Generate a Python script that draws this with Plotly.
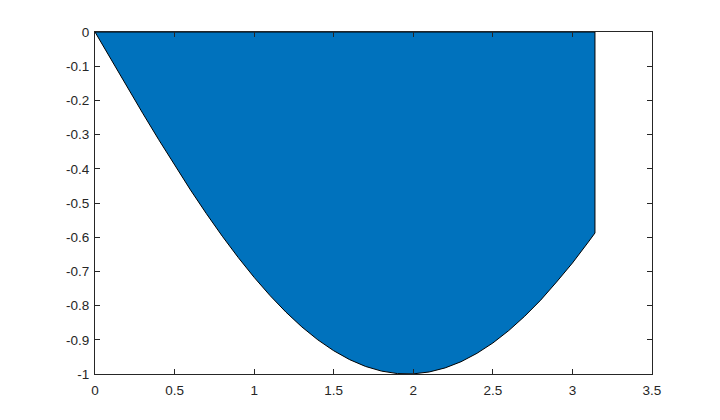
import plotly.graph_objects as go

# values
x_vals = [0, 0.1, 0.2, 0.3, 0.4, 0.5, 0.6, 0.7, 0.8, 0.9, 1.0, 1.1, 1.2, 1.3, 1.4, 1.5,
          1.6, 1.7, 1.8, 1.9, 2.0, 2.1, 2.2, 2.3, 2.4, 2.5, 2.6, 2.7, 2.8, 2.9, 3.0, 3.1, 3.1416]
y_vals = [0, -0.0799, -0.1593, -0.2377, -0.3146, -0.3894, -0.4618, -0.5312, -0.5972, -0.6594,
          -0.7174, -0.7707, -0.8192, -0.8624, -0.9001, -0.9320, -0.9580, -0.9779, -0.9915,
          -0.9988, -0.9996, -0.9941, -0.9822, -0.9641, -0.9396, -0.9093, -0.8730, -0.8311,
          -0.7843, -0.7311, -0.6755, -0.6141, -0.5878]
base_y = 0

x_ticks = [0, 0.5, 1, 1.5, 2, 2.5, 3, 3.5]
x_tick_text = ["0", "0.5", "1", "1.5", "2", "2.5", "3", "3.5"]
y_ticks = [0, -0.1, -0.2, -0.3, -0.4, -0.5, -0.6, -0.7, -0.8, -0.9, -1]
y_tick_text = ["0", "-0.1", "-0.2", "-0.3", "-0.4", "-0.5", "-0.6", "-0.7", "-0.8", "-0.9", "-1"]

poly_x = x_vals + [x_vals[-1], x_vals[0]]
poly_y = y_vals + [base_y, base_y]

fig = go.Figure()
fig.add_trace(go.Scatter(
    x=poly_x, y=poly_y, mode="lines", fill="toself",
    fillcolor="#0072BD", line=dict(color="black", width=1),
    hoverinfo="skip", showlegend=False,
))

axis_common = dict(
    showline=True, linecolor="#262626", linewidth=1, mirror="ticks",
    ticks="inside", ticklen=5, tickcolor="#262626", tickwidth=1,
    showgrid=False, zeroline=False,
    tickfont=dict(family="Liberation Sans, Arial, sans-serif", size=13.5, color="#262626"),
)

fig.update_layout(
    width=720, height=420,
    margin=dict(l=87, r=76, t=24, b=54),
    paper_bgcolor="white", plot_bgcolor="white",
    xaxis=dict(range=[0, 3.5], tickvals=x_ticks, ticktext=x_tick_text,
               ticklabelstandoff=4, **axis_common),
    yaxis=dict(range=[-1, 0], tickvals=y_ticks, ticktext=y_tick_text,
               ticklabelstandoff=2, **axis_common),
)

fig.write_html("out.html")
